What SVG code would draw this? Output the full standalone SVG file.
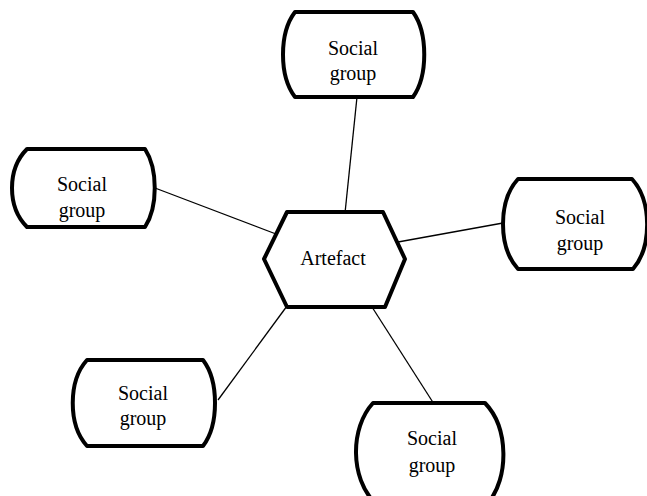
<svg xmlns="http://www.w3.org/2000/svg" width="647" height="496" viewBox="0 0 647 496">
  <style>
    .node { fill: #ffffff; stroke: #000000; stroke-width: 4; stroke-linejoin: round; }
    .link { stroke: #000000; stroke-width: 1.3; fill: none; }
    .label { font-family: "Liberation Serif", "DejaVu Serif", serif; font-size: 20px; fill: #000000; text-anchor: middle; }
  </style>
  <rect width="647" height="496" fill="#ffffff"/>

  <!-- connectors from the artefact to each social group -->
  <g id="connectors">
    <line class="link" x1="357" y1="97" x2="345" y2="213"/>
    <line class="link" x1="155" y1="188" x2="276" y2="234"/>
    <line class="link" x1="398" y1="242" x2="503" y2="223"/>
    <line class="link" x1="287" y1="306" x2="218" y2="400"/>
    <line class="link" x1="372" y1="307" x2="434" y2="404"/>
  </g>

  <g id="artefact">
    <polygon class="node" points="287,212 383,212 405,259 385,307 287,307 264,259"/>
    <text class="label" x="333" y="265">Artefact</text>
  </g>

  <g id="group-top">
    <path class="node" d="M295,12 H413 C428,33 428,76 413,97 H295 C279,76 279,33 295,12 Z"/>
    <text class="label" x="353" y="55">Social</text>
    <text class="label" x="353" y="80">group</text>
  </g>

  <g id="group-left">
    <path class="node" d="M27,149 H145 C158,169 158,207 145,227 H27 C7,207 7,169 27,149 Z"/>
    <text class="label" x="82" y="191">Social</text>
    <text class="label" x="82" y="217">group</text>
  </g>

  <g id="group-right">
    <path class="node" d="M518,179 H632 C652,201 652,247 633,269 H518 C498,247 498,201 518,179 Z"/>
    <text class="label" x="580" y="224">Social</text>
    <text class="label" x="580" y="250">group</text>
  </g>

  <g id="group-bottom-left">
    <path class="node" d="M87,360 H203 C219,381 219,425 203,446 H87 C68,425 68,381 87,360 Z"/>
    <text class="label" x="143" y="400">Social</text>
    <text class="label" x="143" y="425">group</text>
  </g>

  <g id="group-bottom-right">
    <path class="node" d="M373,403 H485 C509,428 509,478 488,503 H375 C350,478 350,428 373,403 Z"/>
    <text class="label" x="432" y="445">Social</text>
    <text class="label" x="432" y="472">group</text>
  </g>
</svg>
